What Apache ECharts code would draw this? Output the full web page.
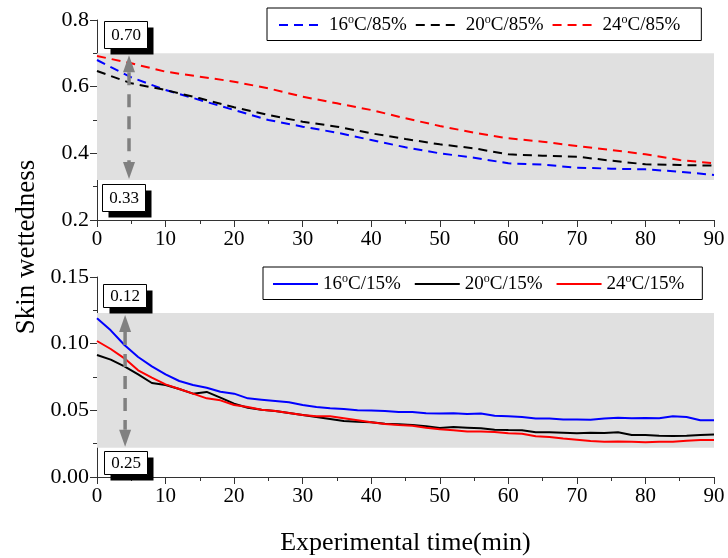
<!DOCTYPE html>
<html><head><meta charset="utf-8">
<script src="https://cdn.jsdelivr.net/npm/echarts/dist/echarts.min.js"></script>
<style>html,body{margin:0;padding:0;background:#fff}#c{width:728px;height:558px}</style>
</head><body><div id="c"></div>
<script>
// ---------- data ----------
const tTop = [0,5,10,15,20,25,30,35,40,45,50,55,60,65,70,75,80,85,90];
const top16 = [0.680,0.628,0.590,0.560,0.530,0.500,0.480,0.462,0.440,0.418,0.400,0.387,0.370,0.366,0.357,0.354,0.352,0.345,0.335];
const top20 = [0.647,0.610,0.590,0.565,0.538,0.515,0.495,0.480,0.460,0.443,0.427,0.415,0.397,0.393,0.390,0.378,0.367,0.365,0.363];
const top24 = [0.692,0.670,0.645,0.630,0.615,0.595,0.570,0.550,0.530,0.505,0.482,0.462,0.445,0.435,0.422,0.410,0.397,0.380,0.370];

const tBot = [0,2,4,6,8,10,12,14,16,18,20,22,24,26,28,30,32,34,36,38,40,42,44,46,48,50,52,54,56,58,60,62,64,66,68,70,72,74,76,78,80,82,84,86,88,90];
const bot16 = [0.119,0.110,0.099,0.090,0.083,0.077,0.072,0.069,0.067,0.064,0.0625,0.059,0.058,0.057,0.056,0.054,0.0525,0.0515,0.051,0.050,0.0498,0.0495,0.0488,0.0488,0.0478,0.0477,0.0478,0.0473,0.0476,0.046,0.0455,0.045,0.0438,0.0438,0.0432,0.0432,0.043,0.0438,0.0445,0.044,0.0442,0.044,0.0455,0.045,0.0425,0.0425];
const bot20 = [0.0915,0.088,0.083,0.077,0.0705,0.069,0.066,0.0625,0.0638,0.0595,0.055,0.052,0.0505,0.0495,0.048,0.0465,0.045,0.0435,0.042,0.0415,0.041,0.040,0.0395,0.039,0.038,0.0368,0.0375,0.037,0.0365,0.0355,0.0352,0.035,0.0335,0.0335,0.0332,0.0328,0.0332,0.033,0.0335,0.0315,0.0315,0.031,0.0308,0.031,0.0315,0.0318];
const bot24 = [0.102,0.096,0.089,0.080,0.0745,0.0695,0.066,0.0625,0.059,0.0575,0.054,0.0525,0.0505,0.0495,0.048,0.0465,0.0455,0.0455,0.044,0.0425,0.041,0.0398,0.039,0.0385,0.037,0.0358,0.035,0.0342,0.0342,0.0338,0.0328,0.0325,0.0305,0.030,0.0288,0.028,0.027,0.0265,0.0267,0.0265,0.026,0.0265,0.0265,0.0272,0.0278,0.0278];

const namesTop = ['16°C/85%','20°C/85%','24°C/85%'];
const namesBot = ['16°C/15%','20°C/15%','24°C/15%'];
const bandTop = [0.32, 0.70];
const bandBot = [0.022, 0.123];
// annotation boxes (data coords) and range arrows
const boxLabels = [
  {grid:0, text:'0.70', x:4.2, y:0.757},
  {grid:0, text:'0.33', x:3.85, y:0.2675},
  {grid:1, text:'0.12', x:4.05, y:0.1365},
  {grid:1, text:'0.25', x:4.2, y:0.0107}
];
const arrows = [
  {grid:0, x:4.67, y1:0.70, y2:0.32},
  {grid:1, x:4.1, y1:0.123, y2:0.022}
];

// ---------- chart ----------
const FONT = 'Liberation Serif';
const chart = echarts.init(document.getElementById('c'), null, {renderer:'canvas'});
const zip = (t, v) => t.map((x, i) => [x, v[i]]);
const colors = ['#0000ff', '#000000', '#ff0000'];

function legendFmt(name) {
  const m = name.match(/^(\d+)°(.*)$/);
  return '{n|' + m[1] + '}{s|o}{n|' + m[2] + '}';
}
const legendRich = {
  n: {fontFamily: FONT, fontSize: 19, color: '#000', lineHeight: 22},
  s: {fontFamily: FONT, fontSize: 12, color: '#000', lineHeight: 6, verticalAlign: 'top'}
};

function xAx(gi, extra) {
  return Object.assign({
    type: 'value', gridIndex: gi, min: 0, max: 90, interval: 10,
    axisLine: {show: true, onZero: false, lineStyle: {color: '#333', width: 1}},
    axisTick: {show: true, inside: false, length: 7, lineStyle: {color: '#333'}},
    minorTick: {show: true, splitNumber: 2, length: 4, lineStyle: {color: '#333'}},
    splitLine: {show: false},
    axisLabel: {fontFamily: FONT, fontSize: 21, color: '#000', margin: 9}
  }, extra || {});
}
function yAx(gi, min, max, itv, dec) {
  return {
    type: 'value', gridIndex: gi, min: min, max: max, interval: itv,
    axisLine: {show: true, onZero: false, lineStyle: {color: '#333', width: 1}},
    axisTick: {show: true, inside: false, length: 7, lineStyle: {color: '#333'}},
    minorTick: {show: true, splitNumber: 2, length: 4, lineStyle: {color: '#333'}},
    splitLine: {show: false},
    axisLabel: {fontFamily: FONT, fontSize: 22, color: '#000', margin: 8,
      formatter: v => v.toFixed(dec)}
  };
}

function lineSeries(name, gi, data, color, dashed, band) {
  const s = {
    name: name, type: 'line', xAxisIndex: gi, yAxisIndex: gi,
    data: data, symbol: 'none', showSymbol: false, smooth: false,
    color: color,
    lineStyle: {color: color, width: 2, type: dashed ? [9, 6] : 'solid'},
    z: 3
  };
  if (band) {
    s.markArea = {
      silent: true, z: 1,
      itemStyle: {color: '#e0e0e0'},
      data: [[{xAxis: 0, yAxis: band[0]}, {xAxis: 90, yAxis: band[1]}]]
    };
  }
  return s;
}

const legendBase = {
  orient: 'horizontal', itemWidth: 45, itemHeight: 14,
  borderColor: '#000', borderWidth: 1, formatter: legendFmt,
  itemStyle: {opacity: 0, borderWidth: 0},
  lineStyle: {width: 2},
  textStyle: {rich: legendRich}
};

const option = {
  animation: false,
  backgroundColor: '#fff',
  grid: [
    {left: 97, right: 14, top: 20, height: 200},
    {left: 97, right: 14, top: 277, height: 200}
  ],
  xAxis: [
    xAx(0),
    xAx(1, {name: 'Experimental time(min)', nameLocation: 'middle', nameGap: 53,
      nameTextStyle: {fontFamily: FONT, fontSize: 26, color: '#000'}})
  ],
  yAxis: [yAx(0, 0.2, 0.8, 0.2, 1), yAx(1, 0, 0.15, 0.05, 2)],
  legend: [
    Object.assign({}, legendBase, {data: namesTop, left: 267, top: 8, itemGap: 8, padding: [6, 21, 6, 11]}),
    Object.assign({}, legendBase, {data: namesBot, left: 263, top: 267, itemGap: 13, padding: [6, 18, 6, 9]})
  ],
  series: [
    lineSeries(namesTop[0], 0, zip(tTop, top16), colors[0], true, bandTop),
    lineSeries(namesTop[1], 0, zip(tTop, top20), colors[1], true),
    lineSeries(namesTop[2], 0, zip(tTop, top24), colors[2], true),
    lineSeries(namesBot[0], 1, zip(tBot, bot16), colors[0], false, bandBot),
    lineSeries(namesBot[1], 1, zip(tBot, bot20), colors[1], false),
    lineSeries(namesBot[2], 1, zip(tBot, bot24), colors[2], false)
  ]
};
chart.setOption(option);

// ---------- annotations (positioned through the axes) ----------
const g = [];
g.push({type: 'text', x: 27, y: 247, rotation: Math.PI / 2, z: 100,
  style: {text: 'Skin wettedness', fontFamily: FONT, fontSize: 27, fill: '#000',
          align: 'center', verticalAlign: 'middle'}});

arrows.forEach(a => {
  const p1 = chart.convertToPixel({gridIndex: a.grid}, [a.x, a.y1]);
  const p2 = chart.convertToPixel({gridIndex: a.grid}, [a.x, a.y2]);
  const x = p1[0], yt = p1[1] + 2, yb = p2[1] - 1, hl = 17, hw = 6;
  g.push({type: 'line', z: 90, shape: {x1: x, y1: yt + hl, x2: x, y2: yb - hl},
    style: {stroke: '#808080', lineWidth: 3.5, lineDash: [13, 9]}});
  g.push({type: 'polygon', z: 90, shape: {points: [[x, yt], [x - hw, yt + hl], [x + hw, yt + hl]]},
    style: {fill: '#808080'}});
  g.push({type: 'polygon', z: 90, shape: {points: [[x, yb], [x - hw, yb - hl], [x + hw, yb - hl]]},
    style: {fill: '#808080'}});
});

boxLabels.forEach(b => {
  const p = chart.convertToPixel({gridIndex: b.grid}, [b.x, b.y]);
  const w = 43, h = b.grid === 0 ? 27 : 23, off = 6;
  const x0 = Math.round(p[0] - w / 2) + 0.5, y0 = Math.round(p[1] - h / 2) + 0.5;
  g.push({type: 'rect', z: 100, shape: {x: x0 + off, y: y0 + off, width: w, height: h}, style: {fill: '#000'}});
  g.push({type: 'rect', z: 101, shape: {x: x0, y: y0, width: w, height: h}, style: {fill: '#fff', stroke: '#000', lineWidth: 1}});
  g.push({type: 'text', z: 102, x: x0 + w / 2, y: y0 + h / 2 + 1,
    style: {text: b.text, fontFamily: FONT, fontSize: 17, fill: '#000', align: 'center', verticalAlign: 'middle'}});
});
chart.setOption({graphic: g});
</script>
</body></html>
